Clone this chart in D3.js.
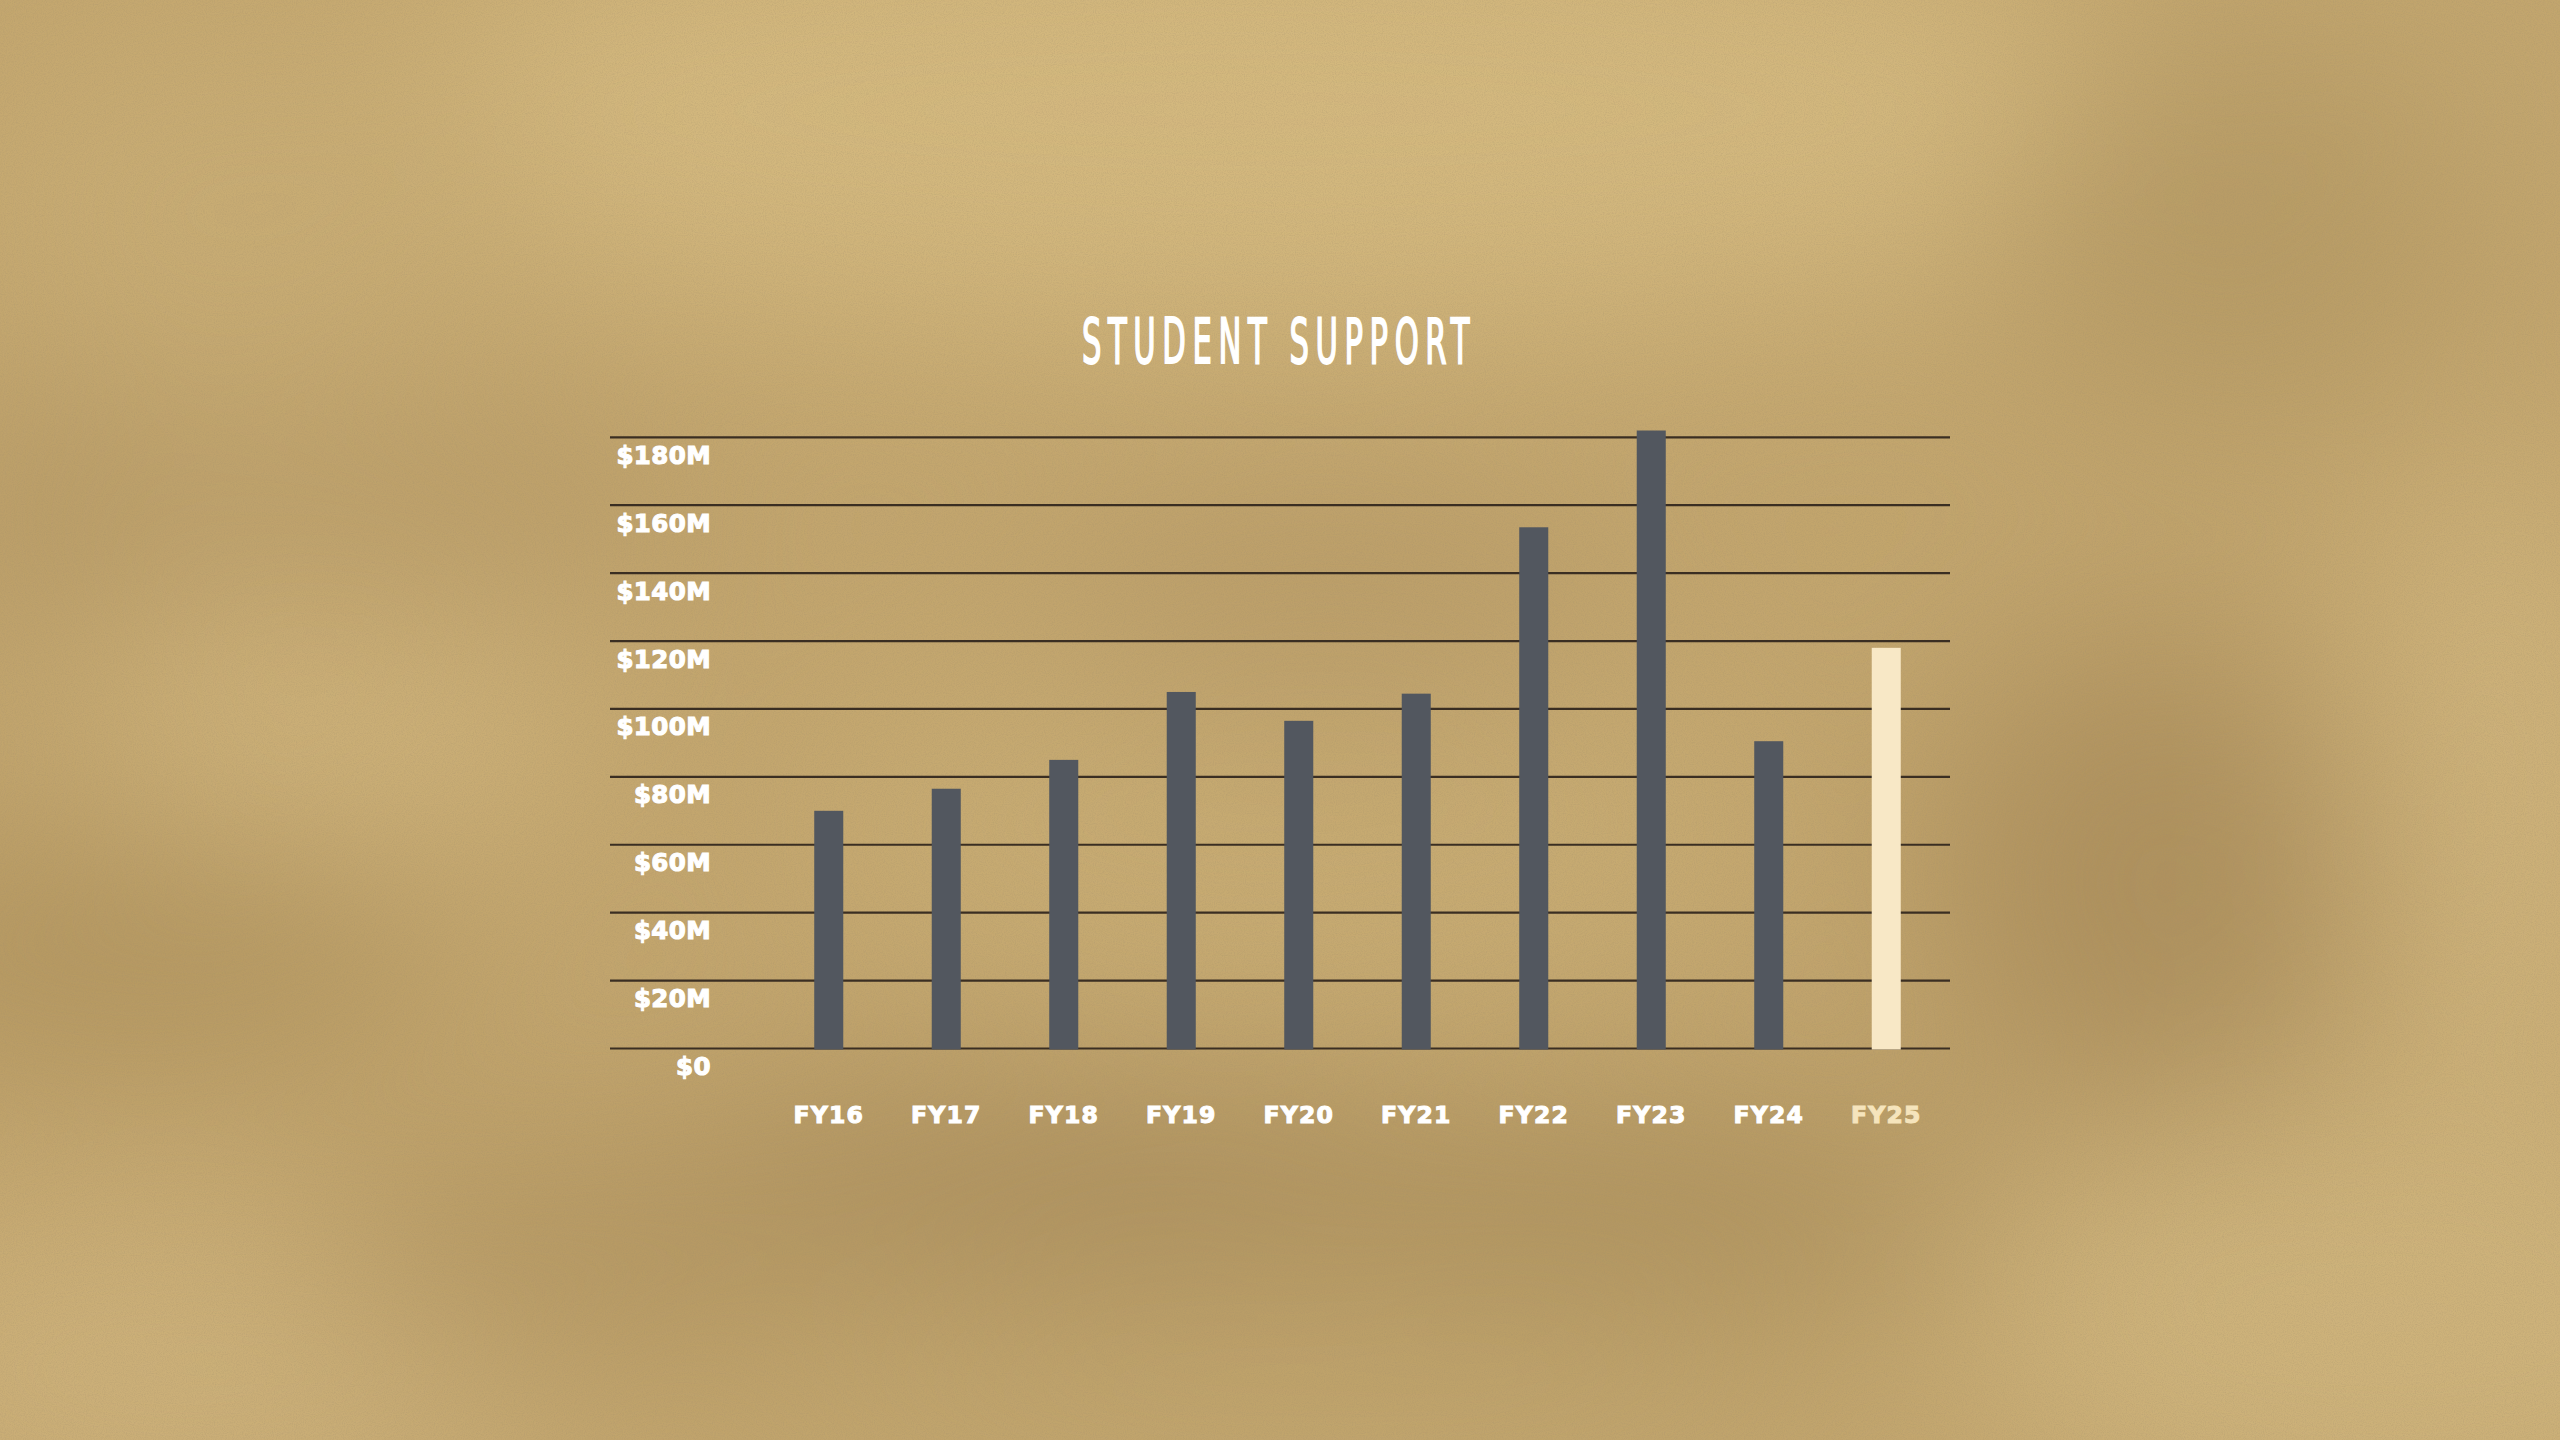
<!DOCTYPE html>
<html>
<head>
<meta charset="utf-8">
<script src="https://cdn.jsdelivr.net/npm/d3@7"></script>
<style>
  html, body { margin: 0; padding: 0; background: #c3a66e; overflow: hidden; }
  svg { display: block; }
</style>
</head>
<body>
<svg id="chart" width="2560" height="1440"></svg>
<script>
// ---- Data ----
const title = "STUDENT SUPPORT";
const categories = ["FY16", "FY17", "FY18", "FY19", "FY20", "FY21", "FY22", "FY23", "FY24", "FY25"];
const values = [70, 76.5, 85, 105, 96.5, 104.5, 153.5, 182, 90.5, 118]; // $M
const highlight = ["FY25"];
const yTicks = [0, 20, 40, 60, 80, 100, 120, 140, 160, 180];
const yTickLabels = ["$0", "$20M", "$40M", "$60M", "$80M", "$100M", "$120M", "$140M", "$160M", "$180M"];

// ---- Setup ----
const W = 2560, H = 1440;
const svg = d3.select("#chart");
const defs = svg.append("defs");

const blur = defs.append("filter").attr("id", "blur")
  .attr("x", "-50%").attr("y", "-50%").attr("width", "200%").attr("height", "200%");
blur.append("feGaussianBlur").attr("stdDeviation", 95);

const grain = defs.append("filter").attr("id", "grain")
  .attr("x", 0).attr("y", 0).attr("width", "100%").attr("height", "100%");
grain.append("feTurbulence").attr("type", "fractalNoise").attr("baseFrequency", 0.9)
  .attr("numOctaves", 2).attr("seed", 4).attr("result", "n");
grain.append("feColorMatrix").attr("type", "matrix")
  .attr("values", "0 0 0 0 0.35  0 0 0 0 0.27  0 0 0 0 0.15  0 0 0 0.9 -0.35");

svg.append("rect").attr("width", W).attr("height", H).attr("fill", "#c2a56d");

const blobs = [
  // light areas
  {cx: 1250, cy: 110, rx: 950, ry: 230, c: "#d3b87e"},
  {cx: 250, cy: 200, rx: 300, ry: 200, c: "#c8ac73"},
  {cx: 2350, cy: 100, rx: 250, ry: 120, c: "#c3a770"},
  {cx: 330, cy: 700, rx: 260, ry: 150, c: "#cfb37a"},
  {cx: 2500, cy: 780, rx: 150, ry: 330, c: "#ceb27a"},
  {cx: 2380, cy: 1320, rx: 420, ry: 220, c: "#cdb27a"},
  {cx: 200, cy: 1370, rx: 380, ry: 160, c: "#ccb079"},
  {cx: 1280, cy: 830, rx: 480, ry: 190, c: "#c7ab72"},
  {cx: 1300, cy: 1420, rx: 600, ry: 100, c: "#c1a56d"},
  // dark areas
  {cx: 2230, cy: 230, rx: 230, ry: 200, c: "#b79b65"},
  {cx: 120, cy: 950, rx: 330, ry: 120, c: "#b2955f"},
  {cx: 60, cy: 520, rx: 160, ry: 140, c: "#b89b66"},
  {cx: 2150, cy: 880, rx: 220, ry: 250, c: "#ae915d"},
  {cx: 1100, cy: 1190, rx: 480, ry: 100, c: "#aa8e5b"},
  {cx: 1620, cy: 1210, rx: 380, ry: 95, c: "#ac905c"},
  {cx: 1330, cy: 610, rx: 280, ry: 110, c: "#b99c67"},
  {cx: 420, cy: 520, rx: 280, ry: 110, c: "#ba9d67"},
  {cx: 560, cy: 1260, rx: 240, ry: 100, c: "#b29560"}
];
const bg = svg.append("g").attr("filter", "url(#blur)");
bg.selectAll("ellipse").data(blobs).join("ellipse")
  .attr("cx", d => d.cx).attr("cy", d => d.cy)
  .attr("rx", d => d.rx).attr("ry", d => d.ry)
  .attr("fill", d => d.c);
svg.append("rect").attr("width", W).attr("height", H)
  .attr("filter", "url(#grain)").attr("opacity", 0.55);

// ---- Scales ----
const gridX0 = 610, gridX1 = 1950;
const y = d3.scaleLinear().domain([0, 180]).range([1048.5, 437.3]);
const x = d3.scaleBand().domain(categories)
  .range([770, 1945]).paddingInner(0.753).paddingOuter(0.3765);

// ---- Title (narrow glyphs, wide tracking) ----
svg.append("text")
  .attr("x", 1082).attr("y", 363.3)
  .attr("textLength", 394).attr("lengthAdjust", "spacingAndGlyphs")
  .attr("letter-spacing", 12)
  .attr("font-family", "'DejaVu Sans Condensed', 'DejaVu Sans', sans-serif")
  .attr("font-size", 61.5)
  .attr("fill", "#ffffff")
  .attr("stroke", "#ffffff").attr("stroke-width", 2)
  .text(title);

// ---- Gridlines ----
svg.append("g").selectAll("line").data(yTicks).join("line")
  .attr("x1", gridX0).attr("x2", gridX1)
  .attr("y1", d => y(d)).attr("y2", d => y(d))
  .attr("stroke", "#3a2e22").attr("stroke-width", 2.2);

// ---- Y labels ----
svg.append("g").selectAll("text").data(yTicks).join("text")
  .attr("x", 711).attr("y", d => y(d) + 26.5)
  .attr("text-anchor", "end")
  .attr("font-family", "'DejaVu Sans', sans-serif")
  .attr("font-weight", "bold")
  .attr("font-size", 24.5)
  .attr("letter-spacing", 0.4)
  .attr("fill", "#ffffff")
  .attr("stroke", "#ffffff").attr("stroke-width", 1.1)
  .text((d, i) => yTickLabels[i]);

// ---- Bars ----
svg.append("g").selectAll("rect").data(categories).join("rect")
  .attr("x", d => x(d))
  .attr("width", x.bandwidth())
  .attr("y", (d, i) => y(values[i]))
  .attr("height", (d, i) => y(0) - y(values[i]) + 1)
  .attr("fill", d => highlight.includes(d) ? "#f8e8c6" : "#52575f");

// ---- X labels ----
svg.append("g").selectAll("text").data(categories).join("text")
  .attr("x", d => x(d) + x.bandwidth() / 2)
  .attr("y", 1122.5)
  .attr("text-anchor", "middle")
  .attr("font-family", "'DejaVu Sans', sans-serif")
  .attr("font-weight", "bold")
  .attr("font-size", 23.5)
  .attr("letter-spacing", 1.2)
  .attr("fill", d => highlight.includes(d) ? "#f5e4bc" : "#ffffff")
  .attr("stroke", d => highlight.includes(d) ? "#f5e4bc" : "#ffffff")
  .attr("stroke-width", 1.1)
  .text(d => d);
</script>
</body>
</html>
